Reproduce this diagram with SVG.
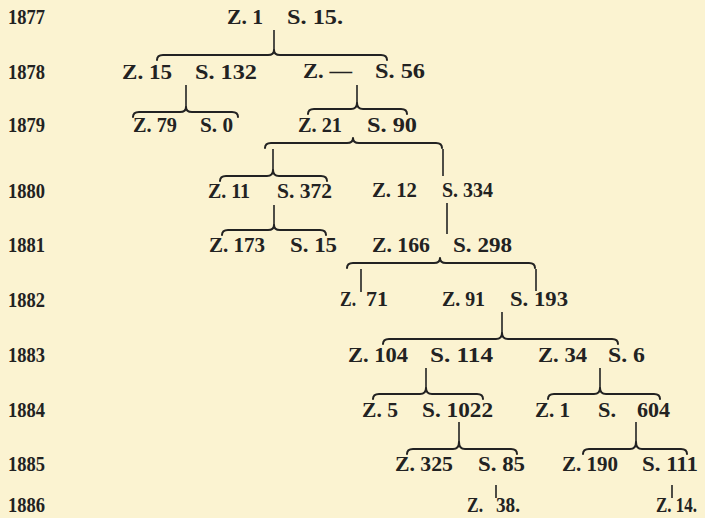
<svg xmlns="http://www.w3.org/2000/svg" width="705" height="518" viewBox="0 0 705 518">
<style>
text{font-family:"Liberation Serif","DejaVu Serif",serif;font-size:20.5px;font-weight:bold;fill:#222;}
.br{fill:none;stroke:#222;stroke-width:2;stroke-linecap:round;stroke-linejoin:round;}
.ln{fill:none;stroke:#222;stroke-width:1.6;}
</style>
<rect width="705" height="518" fill="#fbf3d1"/>
<g id="years">
<text x="8" y="24" textLength="37" lengthAdjust="spacingAndGlyphs">1877</text>
<text x="8" y="79" textLength="37" lengthAdjust="spacingAndGlyphs">1878</text>
<text x="8" y="132" textLength="37" lengthAdjust="spacingAndGlyphs">1879</text>
<text x="8" y="198" textLength="37" lengthAdjust="spacingAndGlyphs">1880</text>
<text x="8" y="252" textLength="37" lengthAdjust="spacingAndGlyphs">1881</text>
<text x="8" y="307" textLength="37" lengthAdjust="spacingAndGlyphs">1882</text>
<text x="8" y="362" textLength="37" lengthAdjust="spacingAndGlyphs">1883</text>
<text x="8" y="417" textLength="37" lengthAdjust="spacingAndGlyphs">1884</text>
<text x="8" y="471" textLength="37" lengthAdjust="spacingAndGlyphs">1885</text>
<text x="8" y="512" textLength="37" lengthAdjust="spacingAndGlyphs">1886</text>
</g>
<g id="connectors">
<line class="ln" x1="274" y1="30" x2="274" y2="50"/>
<path class="br" d="M157,60 Q157,55 163,55 L268,55 Q274,55 274,50 Q274,55 280,55 L381,55 Q387,55 387,60"/>
<line class="ln" x1="186" y1="85" x2="186" y2="107"/>
<path class="br" d="M133,117 Q133,112 139,112 L180,112 Q186,112 186,107 Q186,112 192,112 L232,112 Q238,112 238,117"/>
<line class="ln" x1="357" y1="85" x2="357" y2="103"/>
<path class="br" d="M308,114 Q308,109 314,109 L351,109 Q357,109 357,103 Q357,109 363,109 L401,109 Q407,109 407,114"/>
<path class="br" d="M265,148 Q265,143 271,143 L347,143 Q353,143 353,138 Q353,143 359,143 L436,143 Q442,143 442,148"/>
<line class="ln" x1="273" y1="149" x2="273" y2="170"/>
<line class="ln" x1="443" y1="149" x2="443" y2="176"/>
<path class="br" d="M220,181 Q220,176 226,176 L267,176 Q273,176 273,170 Q273,176 279,176 L321,176 Q327,176 327,181"/>
<line class="ln" x1="274" y1="205" x2="274" y2="225"/>
<path class="br" d="M222,235 Q222,230 228,230 L268,230 Q274,230 274,225 Q274,230 280,230 L320,230 Q326,230 326,235"/>
<line class="ln" x1="447" y1="203" x2="447" y2="234"/>
<path class="br" d="M347,268 Q347,263 353,263 L434,263 Q440,263 440,258 Q440,263 446,263 L529,263 Q535,263 535,268"/>
<line class="ln" x1="361" y1="269" x2="361" y2="292"/>
<line class="ln" x1="536" y1="269" x2="536" y2="291"/>
<line class="ln" x1="502" y1="312" x2="502" y2="333"/>
<path class="br" d="M383,344 Q383,339 389,339 L496,339 Q502,339 502,333 Q502,339 508,339 L612,339 Q618,339 618,344"/>
<line class="ln" x1="426" y1="368" x2="426" y2="388"/>
<path class="br" d="M373,399 Q373,394 379,394 L420,394 Q426,394 426,388 Q426,394 432,394 L477,394 Q483,394 483,399"/>
<line class="ln" x1="600" y1="368" x2="600" y2="388"/>
<path class="br" d="M548,399 Q548,394 554,394 L594,394 Q600,394 600,388 Q600,394 606,394 L654,394 Q660,394 660,399"/>
<line class="ln" x1="459" y1="422" x2="459" y2="442"/>
<path class="br" d="M407,454 Q407,449 413,449 L453,449 Q459,449 459,442 Q459,449 465,449 L511,449 Q517,449 517,454"/>
<line class="ln" x1="636" y1="422" x2="636" y2="442"/>
<path class="br" d="M583,454 Q583,449 589,449 L630,449 Q636,449 636,442 Q636,449 642,449 L681,449 Q687,449 687,454"/>
<line class="ln" x1="496" y1="485" x2="496" y2="498"/>
<line class="ln" x1="672" y1="485" x2="672" y2="498"/>
</g>
<g id="n1877"><text x="227" y="24" textLength="36" lengthAdjust="spacingAndGlyphs">Z. 1</text><text x="287" y="24" textLength="56" lengthAdjust="spacingAndGlyphs">S. 15.</text></g>
<g id="n1878a"><text x="122" y="79" textLength="50" lengthAdjust="spacingAndGlyphs">Z. 15</text><text x="195" y="79" textLength="62" lengthAdjust="spacingAndGlyphs">S. 132</text></g>
<g id="n1878b"><text x="303" y="78" textLength="49" lengthAdjust="spacingAndGlyphs">Z. —</text><text x="375" y="78" textLength="50" lengthAdjust="spacingAndGlyphs">S. 56</text></g>
<g id="n1879a"><text x="133" y="132" textLength="44" lengthAdjust="spacingAndGlyphs">Z. 79</text><text x="200" y="132" textLength="33" lengthAdjust="spacingAndGlyphs">S. 0</text></g>
<g id="n1879b"><text x="298" y="132" textLength="44" lengthAdjust="spacingAndGlyphs">Z. 21</text><text x="367" y="132" textLength="50" lengthAdjust="spacingAndGlyphs">S. 90</text></g>
<g id="n1880a"><text x="208" y="198" textLength="42" lengthAdjust="spacingAndGlyphs">Z. 11</text><text x="277" y="198" textLength="55" lengthAdjust="spacingAndGlyphs">S. 372</text></g>
<g id="n1880b"><text x="372" y="197" textLength="45" lengthAdjust="spacingAndGlyphs">Z. 12</text><text x="442" y="197" textLength="51" lengthAdjust="spacingAndGlyphs">S. 334</text></g>
<g id="n1881a"><text x="209" y="252" textLength="56" lengthAdjust="spacingAndGlyphs">Z. 173</text><text x="290" y="252" textLength="47" lengthAdjust="spacingAndGlyphs">S. 15</text></g>
<g id="n1881b"><text x="372" y="252" textLength="58" lengthAdjust="spacingAndGlyphs">Z. 166</text><text x="453" y="252" textLength="59" lengthAdjust="spacingAndGlyphs">S. 298</text></g>
<g id="n1882a"><text x="340" y="306" textLength="16" lengthAdjust="spacingAndGlyphs">Z.</text><text x="366" y="306" textLength="22" lengthAdjust="spacingAndGlyphs">71</text></g>
<g id="n1882b"><text x="442" y="306" textLength="43" lengthAdjust="spacingAndGlyphs">Z. 91</text><text x="510" y="306" textLength="58" lengthAdjust="spacingAndGlyphs">S. 193</text></g>
<g id="n1883a"><text x="348" y="362" textLength="60" lengthAdjust="spacingAndGlyphs">Z. 104</text><text x="430" y="362" textLength="63" lengthAdjust="spacingAndGlyphs">S. 114</text></g>
<g id="n1883b"><text x="538" y="362" textLength="49" lengthAdjust="spacingAndGlyphs">Z. 34</text><text x="608" y="362" textLength="37" lengthAdjust="spacingAndGlyphs">S. 6</text></g>
<g id="n1884a"><text x="362" y="417" textLength="36" lengthAdjust="spacingAndGlyphs">Z. 5</text><text x="422" y="417" textLength="71" lengthAdjust="spacingAndGlyphs">S. 1022</text></g>
<g id="n1884b"><text x="535" y="417" textLength="35" lengthAdjust="spacingAndGlyphs">Z. 1</text><text x="598" y="417" textLength="18" lengthAdjust="spacingAndGlyphs">S.</text><text x="637" y="417" textLength="33" lengthAdjust="spacingAndGlyphs">604</text></g>
<g id="n1885a"><text x="395" y="471" textLength="58" lengthAdjust="spacingAndGlyphs">Z. 325</text><text x="478" y="471" textLength="47" lengthAdjust="spacingAndGlyphs">S. 85</text></g>
<g id="n1885b"><text x="562" y="471" textLength="56" lengthAdjust="spacingAndGlyphs">Z. 190</text><text x="642" y="471" textLength="56" lengthAdjust="spacingAndGlyphs">S. 111</text></g>
<g id="n1886a"><text x="467" y="512" textLength="16" lengthAdjust="spacingAndGlyphs">Z.</text><text x="496" y="512" textLength="24" lengthAdjust="spacingAndGlyphs">38.</text></g>
<g id="n1886b"><text x="656" y="512" textLength="41" lengthAdjust="spacingAndGlyphs">Z. 14.</text></g>
</svg>
